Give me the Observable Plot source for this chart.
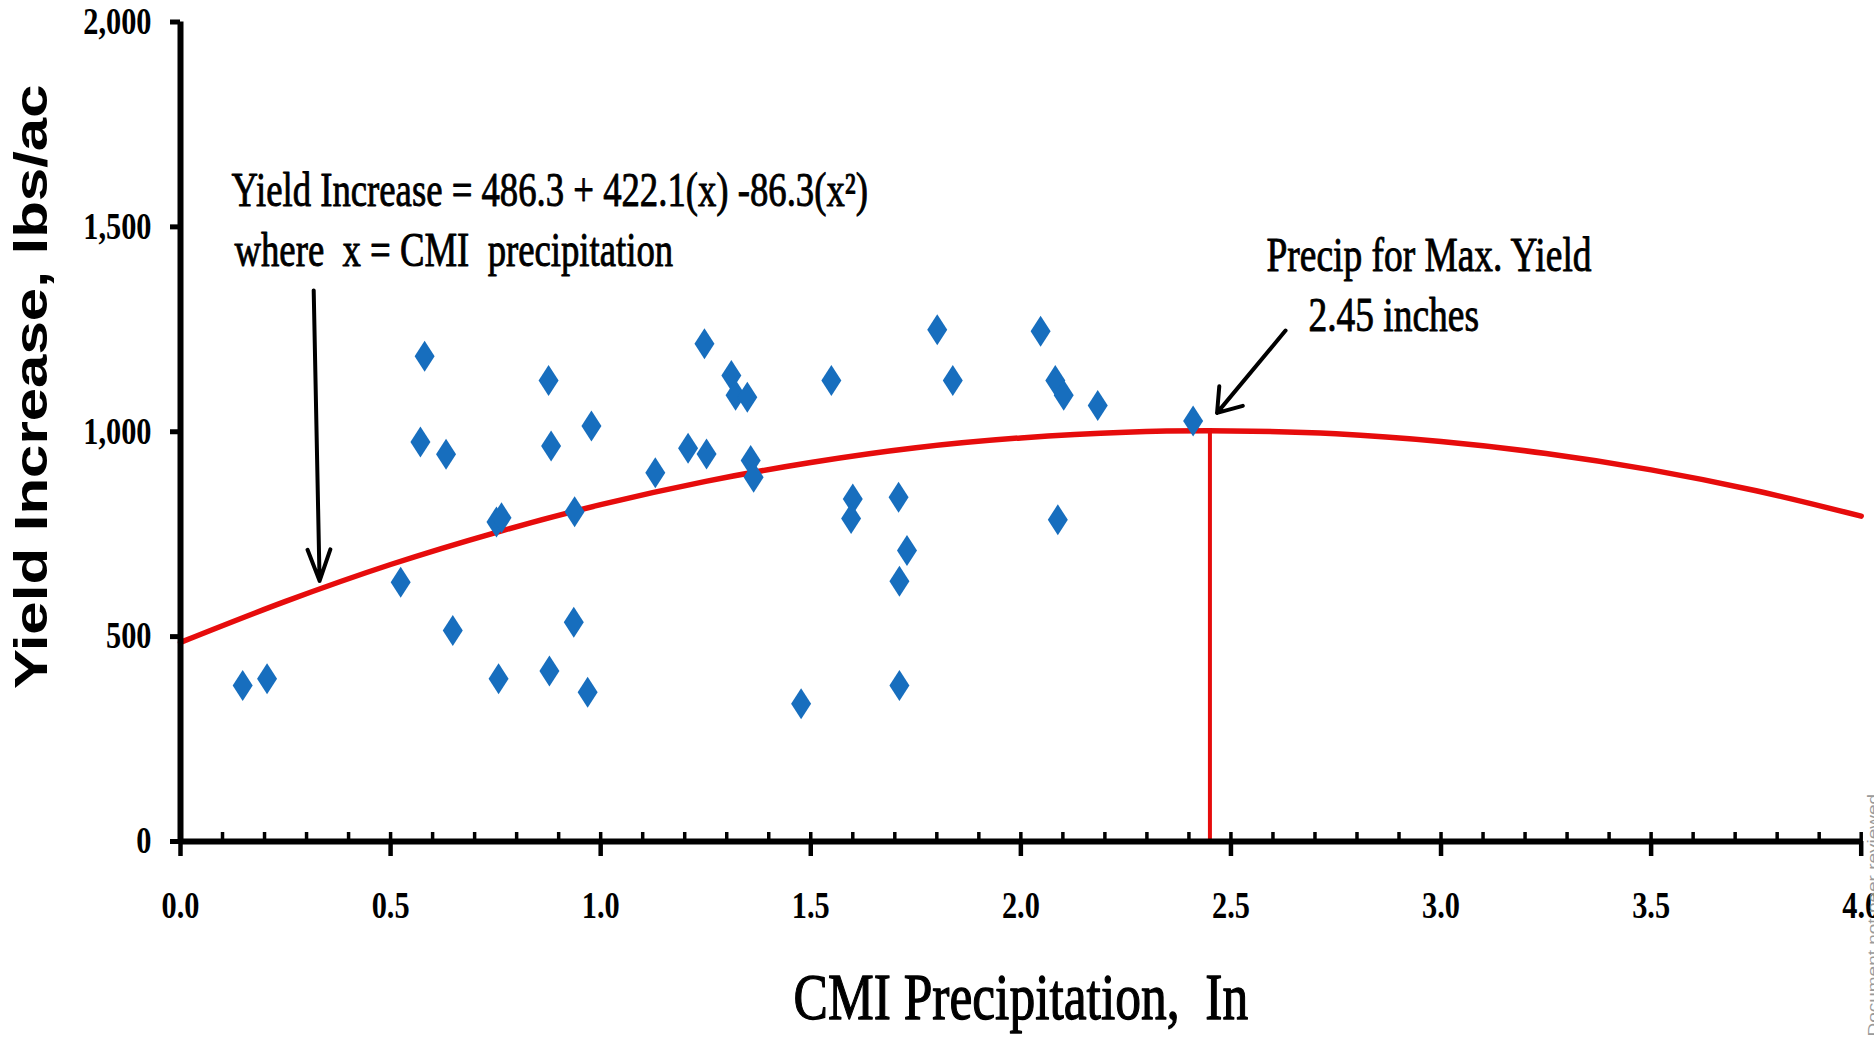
<!DOCTYPE html>
<html>
<head>
<meta charset="utf-8">
<script src="https://cdn.jsdelivr.net/npm/d3@7"></script>
<script src="https://cdn.jsdelivr.net/npm/@observablehq/plot@0.6"></script>
<style>
  html, body { margin: 0; padding: 0; background: #ffffff; }
  #chart svg { display: block; }
</style>
</head>
<body>
<div id="chart"></div>
<script>
// ---- data ----
const precipX = [0.148,0.206,0.524,0.581,0.571,0.632,0.648,0.757,0.752,0.764,0.876,0.882,0.878,0.938,0.936,0.969,0.978,1.130,1.208,1.252,1.247,1.311,1.321,1.349,1.357,1.364,1.477,1.549,1.600,1.596,1.709,1.729,1.711,1.711,1.801,1.838,2.047,2.082,2.102,2.088,2.183,2.410];
const yieldIncrease = [381,397,633,1184,975,945,515,397,780,790,1125,965,416,805,535,364,1014,900,960,946,1215,1137,1089,1084,930,889,336,1125,836,788,840,710,635,381,1249,1125,1245,1125,1089,785,1064,1026];

// fitted curve
const fitX = [0,0.25,0.5,0.75,1,1.25,1.5,1.75,2,2.25,2.5,2.75,3,3.25,3.5,3.75,4];
const fitY = [486,586,676,754,822,879,925,961,985,999,1002,995,976,947,907,856,794];

// max-yield marker
const maxPrecip = [2.45];
const maxYield = [1002];

// arrows [x1, y1, x2, y2]
const arrowEq = [[0.317, 1345, 0.331, 636]];
const arrowMax = [[2.630, 1247, 2.467, 1046]];

// ticks and labels
const xTicks = [0,0.5,1,1.5,2,2.5,3,3.5,4];
const xMinorTicks = [0.1,0.2,0.3,0.4,0.5,0.6,0.7,0.8,0.9,1.0,1.1,1.2,1.3,1.4,1.5,1.6,1.7,1.8,1.9,2.0,2.1,2.2,2.3,2.4,2.5,2.6,2.7,2.8,2.9,3.0,3.1,3.2,3.3,3.4,3.5,3.6,3.7,3.8,3.9,4.0];
const yTicks = [0,500,1000,1500,2000];
const xTitle = "CMI Precipitation,  In";
const yTitle = "Yield Increase, lbs/ac";
const eqLines = ["Yield Increase = 486.3 + 422.1(x) -86.3(x²)", "where  x = CMI  precipitation"];
const maxLines = ["Precip for Max. Yield", "2.45 inches"];
const watermark = ["Document not peer reviewed"];

// ---- build ----
const pts = precipX.map((x, i) => ({x, y: yieldIncrease[i]}));
const fit = fitX.map((x, i) => ({x, y: fitY[i]}));
const serif = "'Liberation Serif', 'Times New Roman', serif";
const sans = "'Liberation Sans', Arial, sans-serif";
const RED = "#e60c0c";
const BLUE = "#176ebe";

const diamond = {
  draw(ctx, size) {
    const r = Math.sqrt(size / Math.PI);
    const w = r * 1.0, h = r * 1.55;
    ctx.moveTo(0, -h);
    ctx.lineTo(w, 0);
    ctx.lineTo(0, h);
    ctx.lineTo(-w, 0);
    ctx.closePath();
  }
};

const annoText = (txt, dx, dy) => Plot.text([txt], {
  text: d => d, frameAnchor: "top-left", textAnchor: "start", lineAnchor: "bottom",
  dx, dy, fontSize: 48, fontFamily: serif, fill: "#000", stroke: "#000", strokeWidth: 0.9
});

const chart = Plot.plot({
  width: 1874,
  height: 1038,
  marginLeft: 180,
  marginRight: 13.3,
  marginTop: 21.5,
  marginBottom: 197,
  x: {domain: [0, 4]},
  y: {domain: [0, 2000]},
  style: {background: "#ffffff", overflow: "visible"},
  marks: [
    Plot.line(fit, {x: "x", y: "y", curve: "catmull-rom", stroke: RED, strokeWidth: 5.5}),
    Plot.ruleX(maxPrecip, {x: d => d, y1: 0, y2: (d, i) => maxYield[i], stroke: RED, strokeWidth: 4}),
    Plot.dot(pts, {x: "x", y: "y", symbol: diamond, r: 10, fill: BLUE, stroke: "none"}),
    Plot.arrow(arrowEq, {x1: d => d[0], y1: d => d[1], x2: d => d[2], y2: d => d[3],
      stroke: "#000", strokeWidth: 4, headLength: 12.5, headAngle: 40}),
    Plot.arrow(arrowMax, {x1: d => d[0], y1: d => d[1], x2: d => d[2], y2: d => d[3],
      stroke: "#000", strokeWidth: 4, headLength: 10, headAngle: 70}),
    Plot.axisX({ticks: xMinorTicks, tickSize: -9, tickFormat: () => "", strokeWidth: 3.5, label: null}),
    Plot.axisX({ticks: xTicks, tickSize: 15, tickPadding: 35, tickFormat: d3.format(".1f"),
      strokeWidth: 4.5, fontSize: 37, fontWeight: "bold", fontFamily: serif, fill: "#000", label: null}),
    Plot.axisY({ticks: yTicks, tickSize: 10, tickPadding: 19, tickFormat: d3.format(","),
      strokeWidth: 5, fontSize: 37, fontWeight: "bold", fontFamily: serif, fill: "#000", label: null}),
    Plot.ruleY([0], {stroke: "#000", strokeWidth: 6}),
    Plot.ruleX([0], {stroke: "#000", strokeWidth: 6}),
    Plot.text([xTitle], {text: d => d, frameAnchor: "bottom", textAnchor: "middle", lineAnchor: "top", dy: 131,
      fontSize: 66, fontFamily: serif, fill: "#000", stroke: "#000", strokeWidth: 1.3}),
    Plot.text([yTitle], {text: d => d, frameAnchor: "left", textAnchor: "middle", lineAnchor: "middle",
      rotate: -90, dx: -153, dy: -45, fontSize: 60, fontWeight: "bold", fontFamily: sans, fill: "#000"}),
    annoText(eqLines[0], 51, 183.5),
    annoText(eqLines[1], 54, 243.5),
    annoText(maxLines[0], 1086, 248.5),
    annoText(maxLines[1], 1128, 308.5),
    Plot.text(watermark, {text: d => d, frameAnchor: "bottom-right", rotate: -90, textAnchor: "start",
      lineAnchor: "bottom", dx: 17, dy: 195, fontSize: 19, fontFamily: sans, fill: "#9a9a9a"})
  ]
});

document.getElementById("chart").appendChild(chart);

// The reference is horizontally compressed: squeeze each text about its own anchor point.
function squeeze(node, sx, sy) {
  const t = node.getAttribute("transform") || "";
  const xl = node.x && node.x.baseVal, yl = node.y && node.y.baseVal;
  const x = xl && xl.numberOfItems ? xl.getItem(0).value : 0;
  const y = yl && yl.numberOfItems ? yl.getItem(0).value : 0;
  node.setAttribute("transform", `${t} translate(${x},${y}) scale(${sx},${sy}) translate(${-x},${-y})`);
}
const flat = new Set([xTitle, ...eqLines, ...maxLines]);
const rotated = new Set([yTitle, ...watermark]);
d3.select(chart).selectAll("text").each(function () {
  const s = this.textContent;
  const parentLabel = (this.parentNode && this.parentNode.getAttribute("aria-label")) || "";
  if (rotated.has(s)) squeeze(this, 1, 0.78);
  else if (eqLines.includes(s)) squeeze(this, 0.765, 1);
  else if (flat.has(s)) squeeze(this, 0.78, 1);
  else if (parentLabel.includes("tick label")) squeeze(this, 0.82, 1);
});
</script>
</body>
</html>
